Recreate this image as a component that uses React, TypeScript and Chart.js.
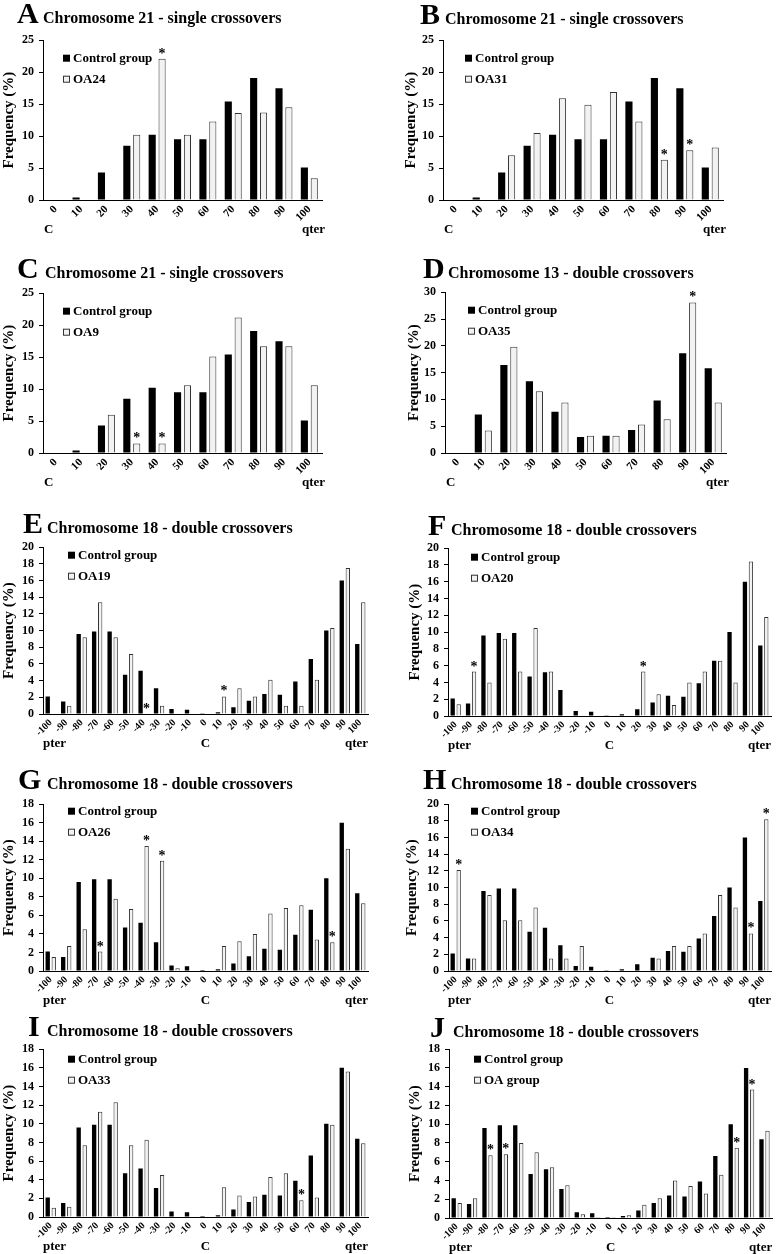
import React, { useEffect, useRef } from "react";
import { Chart, registerables } from "chart.js";

Chart.register(...registerables);

const FONT = '"Liberation Serif", "Times New Roman", Times, serif';

// ---------- categories ----------
const singleCategories = ["0", "10", "20", "30", "40", "50", "60", "70", "80", "90", "100"];
const doubleCategories = [
  "-100", "-90", "-80", "-70", "-60", "-50", "-40", "-30", "-20", "-10",
  "0", "10", "20", "30", "40", "50", "60", "70", "80", "90", "100",
];

// ---------- chromosome 21 single crossovers ----------
const chr21Control = [0, 0.4, 4.3, 8.5, 10.2, 9.5, 9.5, 15.4, 19.1, 17.5, 5.1];
const oa24 = [0, 0, 0, 10.2, 22.1, 10.2, 12.3, 13.6, 13.7, 14.5, 3.4];
const oa31 = [0, 0, 7.0, 10.5, 15.9, 14.9, 16.9, 12.3, 6.3, 7.8, 8.2];
const oa9 = [0, 0, 6.0, 1.5, 1.5, 10.6, 15.1, 21.2, 16.7, 16.7, 10.6];

// ---------- chromosome 13 double crossovers ----------
const chr13Control = [0, 7.2, 16.4, 13.4, 7.7, 3.0, 3.2, 4.3, 9.8, 18.6, 15.8];
const oa35 = [0, 4.2, 19.8, 11.5, 9.4, 3.2, 3.2, 5.3, 6.3, 28.1, 9.4];

// ---------- chromosome 18 double crossovers ----------
const chr18Control = [2.1, 1.5, 9.6, 9.9, 9.9, 4.7, 5.2, 3.1, 0.6, 0.5, 0.1, 0.2, 0.8, 1.6, 2.4, 2.3, 3.9, 6.6, 10.0, 16.0, 8.4];
const oa19 = [0, 1.0, 9.2, 13.4, 9.2, 7.2, 0, 1.0, 0, 0, 0, 2.1, 3.1, 2.1, 4.1, 1.0, 1.0, 4.1, 10.3, 17.5, 13.4];
const oa20 = [1.4, 5.3, 4.0, 9.2, 5.3, 10.5, 5.3, 0, 0, 0, 0, 0, 5.3, 2.6, 1.3, 4.0, 5.3, 6.6, 4.0, 18.4, 11.8];
const oa26 = [1.5, 2.7, 4.5, 2.1, 7.8, 6.7, 13.5, 11.9, 0.3, 0, 0, 2.7, 3.2, 4.0, 6.2, 6.8, 7.1, 3.4, 3.1, 13.2, 7.3];
const oa34 = [12.1, 1.5, 9.1, 6.1, 6.1, 7.6, 1.5, 1.5, 3.0, 0, 0, 0, 0, 1.5, 3.0, 3.0, 4.5, 9.1, 7.6, 4.5, 18.2];
const oa33 = [1.0, 1.1, 7.7, 11.3, 12.3, 7.7, 8.3, 4.5, 0, 0, 0, 3.2, 2.3, 2.2, 4.3, 4.7, 1.8, 2.1, 9.9, 15.6, 7.9];
const oaGroup = [1.6, 2.1, 6.7, 6.8, 8.0, 7.0, 5.4, 3.5, 0.4, 0.1, 0.1, 0.3, 1.4, 2.1, 4.0, 3.4, 2.6, 4.6, 7.5, 13.7, 9.3];

// ---------- significance stars (category labels, over OA bars) ----------
const starsA = ["40"];
const starsB = ["80", "90"];
const starsC = ["30", "40"];
const starsD = ["90"];
const starsE = ["-40", "10"];
const starsF = ["-90", "20"];
const starsG = ["-70", "-40", "-30", "80"];
const starsH = ["-100", "90", "100"];
const starsI = ["60"];
const starsJ = ["-80", "-70", "80", "90"];

const title21 = "Chromosome 21 - single crossovers";
const title13 = "Chromosome 13 - double crossovers";
const title18 = "Chromosome 18 - double crossovers";

type Geom = {
  canvasLeft: number; canvasRight: number;
  plotLeft: number; plotRight: number; plotTop: number; plotBottom: number;
  legendDx: number; legendDy: number;
  letterLeft: number; titleLeft: number; baseline: number;
};

type Panel = {
  letter: string; title: string; kind: "single" | "double";
  categories: string[]; control: number[]; oa: number[]; oaLabel: string;
  stars: string[]; yMax: number; yStep: number; geom: Geom;
};

const panels: Panel[] = [
  { letter: "A", title: title21, kind: "single", categories: singleCategories, control: chr21Control, oa: oa24, oaLabel: "OA24", stars: starsA, yMax: 25, yStep: 5,
    geom: { canvasLeft: 0, canvasRight: 388, plotLeft: 43, plotRight: 322, plotTop: 38, plotBottom: 200, legendDx: 20, legendDy: 18, letterLeft: 17, titleLeft: 43, baseline: 23 } },
  { letter: "B", title: title21, kind: "single", categories: singleCategories, control: chr21Control, oa: oa31, oaLabel: "OA31", stars: starsB, yMax: 25, yStep: 5,
    geom: { canvasLeft: 402, canvasRight: 776, plotLeft: 443, plotRight: 723, plotTop: 38, plotBottom: 200, legendDx: 22, legendDy: 18, letterLeft: 420, titleLeft: 445, baseline: 24 } },
  { letter: "C", title: title21, kind: "single", categories: singleCategories, control: chr21Control, oa: oa9, oaLabel: "OA9", stars: starsC, yMax: 25, yStep: 5,
    geom: { canvasLeft: 0, canvasRight: 388, plotLeft: 43, plotRight: 322, plotTop: 291, plotBottom: 453, legendDx: 20, legendDy: 18, letterLeft: 17, titleLeft: 45, baseline: 278 } },
  { letter: "D", title: title13, kind: "single", categories: singleCategories, control: chr13Control, oa: oa35, oaLabel: "OA35", stars: starsD, yMax: 30, yStep: 5,
    geom: { canvasLeft: 405, canvasRight: 776, plotLeft: 445, plotRight: 726, plotTop: 290, plotBottom: 453, legendDx: 23, legendDy: 18, letterLeft: 423, titleLeft: 448, baseline: 278 } },
  { letter: "E", title: title18, kind: "double", categories: doubleCategories, control: chr18Control, oa: oa19, oaLabel: "OA19", stars: starsE, yMax: 20, yStep: 2,
    geom: { canvasLeft: 0, canvasRight: 388, plotLeft: 43, plotRight: 368, plotTop: 545, plotBottom: 714, legendDx: 25, legendDy: 8, letterLeft: 23, titleLeft: 47, baseline: 533 } },
  { letter: "F", title: title18, kind: "double", categories: doubleCategories, control: chr18Control, oa: oa20, oaLabel: "OA20", stars: starsF, yMax: 20, yStep: 2,
    geom: { canvasLeft: 406, canvasRight: 776, plotLeft: 448, plotRight: 771, plotTop: 546, plotBottom: 716, legendDx: 23, legendDy: 9, letterLeft: 428, titleLeft: 451, baseline: 535 } },
  { letter: "G", title: title18, kind: "double", categories: doubleCategories, control: chr18Control, oa: oa26, oaLabel: "OA26", stars: starsG, yMax: 18, yStep: 2,
    geom: { canvasLeft: 0, canvasRight: 388, plotLeft: 43, plotRight: 368, plotTop: 802, plotBottom: 971, legendDx: 25, legendDy: 7, letterLeft: 18, titleLeft: 47, baseline: 789 } },
  { letter: "H", title: title18, kind: "double", categories: doubleCategories, control: chr18Control, oa: oa34, oaLabel: "OA34", stars: starsH, yMax: 20, yStep: 2,
    geom: { canvasLeft: 403, canvasRight: 776, plotLeft: 448, plotRight: 771, plotTop: 802, plotBottom: 971, legendDx: 23, legendDy: 7, letterLeft: 423, titleLeft: 451, baseline: 789 } },
  { letter: "I", title: title18, kind: "double", categories: doubleCategories, control: chr18Control, oa: oa33, oaLabel: "OA33", stars: starsI, yMax: 18, yStep: 2,
    geom: { canvasLeft: 0, canvasRight: 388, plotLeft: 43, plotRight: 368, plotTop: 1047, plotBottom: 1217, legendDx: 25, legendDy: 10, letterLeft: 28, titleLeft: 47, baseline: 1036 } },
  { letter: "J", title: title18, kind: "double", categories: doubleCategories, control: chr18Control, oa: oaGroup, oaLabel: "OA group", stars: starsJ, yMax: 18, yStep: 2,
    geom: { canvasLeft: 406, canvasRight: 776, plotLeft: 449, plotRight: 775, plotTop: 1047, plotBottom: 1218, legendDx: 25, legendDy: 10, letterLeft: 430, titleLeft: 453, baseline: 1037 } },
];

const TOP_PAD = 10;
const X_H = 45;

function ChartPanel({ panel }: { panel: Panel }) {
  const ref = useRef<HTMLCanvasElement | null>(null);
  const g = panel.geom;
  const cw = g.canvasRight - g.canvasLeft;
  const ch = g.plotBottom - g.plotTop + TOP_PAD + X_H;

  useEffect(() => {
    if (!ref.current) return;
    const overlay = {
      id: "overlay",
      afterDatasetsDraw(chart: any) {
        const ctx = chart.ctx as CanvasRenderingContext2D;
        const area = chart.chartArea;
        ctx.save();
        // stars
        const meta = chart.getDatasetMeta(1);
        ctx.fillStyle = "#000";
        ctx.font = `bold 14px ${FONT}`;
        ctx.textAlign = "center";
        ctx.textBaseline = "alphabetic";
        panel.stars.forEach((lbl) => {
          const i = panel.categories.indexOf(lbl);
          const el = meta.data[i];
          if (el) ctx.fillText("*", el.x, el.y - 1);
        });
        // legend
        const lx = area.left + g.legendDx;
        const ly = area.top + g.legendDy;
        chart.data.datasets.forEach((ds: any, k: number) => {
          const cy = ly + k * 21;
          ctx.fillStyle = ds.backgroundColor;
          ctx.fillRect(lx, cy - 3.5, 7, 7);
          if (ds.borderWidth) {
            ctx.strokeStyle = ds.borderColor;
            ctx.lineWidth = 1;
            ctx.strokeRect(lx + 0.5, cy - 3, 6, 6);
          }
          ctx.fillStyle = "#000";
          ctx.font = `bold 13px ${FONT}`;
          ctx.textAlign = "left";
          ctx.textBaseline = "middle";
          ctx.fillText(ds.label, lx + 10, cy);
        });
        // bottom labels
        const by = area.bottom + 30;
        ctx.font = `bold 13px ${FONT}`;
        ctx.textBaseline = "middle";
        if (panel.kind === "single") {
          ctx.textAlign = "left";
          ctx.fillText("C", area.left + 1, by);
          ctx.textAlign = "right";
          ctx.fillText("qter", area.right + 3, by);
        } else {
          ctx.textAlign = "left";
          ctx.fillText("pter", area.left, by);
          ctx.textAlign = "center";
          const cx = chart.scales.x.getPixelForValue(panel.categories.indexOf("0"));
          ctx.fillText("C", cx, by);
          ctx.textAlign = "right";
          ctx.fillText("qter", area.right, by);
        }
        ctx.restore();
      },
    };

    const chart = new Chart(ref.current, {
      type: "bar",
      data: {
        labels: panel.categories,
        datasets: [
          { label: "Control group", data: panel.control, backgroundColor: "#000", borderWidth: 0, categoryPercentage: 0.78, barPercentage: 0.72 },
          { label: panel.oaLabel, data: panel.oa, backgroundColor: "#f2f2f2", borderColor: "#333", borderWidth: 1, categoryPercentage: 0.78, barPercentage: 0.72 },
        ],
      },
      options: {
        animation: false,
        responsive: false,
        maintainAspectRatio: false,
        devicePixelRatio: 1,
        layout: { padding: { left: 0, top: TOP_PAD, right: cw - (g.plotRight - g.canvasLeft), bottom: 0 } },
        plugins: { legend: { display: false }, tooltip: { enabled: false }, title: { display: false } },
        scales: {
          x: {
            grid: { display: false, drawTicks: false },
            border: { display: true, color: "#000", width: 1 },
            ticks: {
              autoSkip: false, minRotation: 45, maxRotation: 45, padding: 3, color: "#000",
              font: { family: FONT, weight: "bold", size: panel.kind === "single" ? 11 : 10 },
            },
            afterFit: (s: any) => { s.height = X_H; },
          },
          y: {
            min: 0, max: panel.yMax,
            ticks: { stepSize: panel.yStep, autoSkip: false, color: "#000", padding: 5, font: { family: FONT, weight: "bold", size: 12 } },
            grid: { drawOnChartArea: false, drawTicks: true, tickLength: 4, color: "#000" },
            border: { display: true, color: "#000", width: 1 },
            title: { display: true, text: "Frequency (%)", color: "#000", padding: 0, font: { family: FONT, weight: "bold", size: 15 } },
            afterFit: (s: any) => { s.width = g.plotLeft - g.canvasLeft; },
          },
        },
      } as any,
      plugins: [overlay],
    });
    return () => chart.destroy();
  }, []);

  return (
    <canvas
      ref={ref}
      width={cw}
      height={ch}
      style={{ position: "absolute", left: g.canvasLeft, top: g.plotTop - TOP_PAD, width: cw, height: ch }}
    />
  );
}

function Heading({ panel }: { panel: Panel }) {
  const g = panel.geom;
  const L = 30;
  const T = 16;
  return (
    <>
      <div style={{ position: "absolute", left: g.letterLeft, top: g.baseline - 0.8375 * L, fontFamily: FONT, fontWeight: "bold", fontSize: L, lineHeight: `${L}px`, whiteSpace: "nowrap" }}>
        {panel.letter}
      </div>
      <div style={{ position: "absolute", left: g.titleLeft, top: g.baseline - 0.8375 * T, fontFamily: FONT, fontWeight: "bold", fontSize: T, lineHeight: `${T}px`, whiteSpace: "nowrap" }}>
        {panel.title}
      </div>
    </>
  );
}

export default function App() {
  return (
    <div style={{ position: "absolute", left: 0, top: 0, width: 776, height: 1254, overflow: "hidden", background: "#fff" }}>
      {panels.map((p) => (
        <React.Fragment key={p.letter}>
          <ChartPanel panel={p} />
          <Heading panel={p} />
        </React.Fragment>
      ))}
    </div>
  );
}
